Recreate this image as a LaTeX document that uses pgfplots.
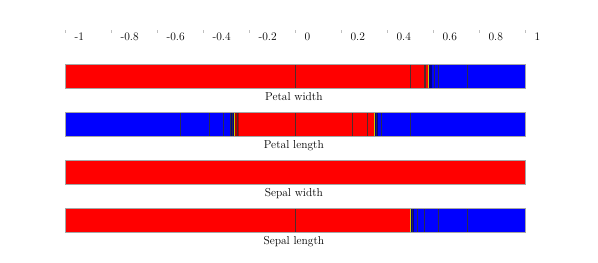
\documentclass[border=0pt]{standalone}
\usepackage{fontspec}
\usepackage{pgfplots}
\pgfplotsset{compat=1.18}
\definecolor{cred}{RGB}{255,0,0}
\definecolor{cblue}{RGB}{0,0,255}
\definecolor{cdblue}{RGB}{0,0,140}
\definecolor{cdred}{RGB}{175,0,0}
\definecolor{cyel}{RGB}{205,205,0}
% segment: top, bottom, x1, x2, colour
\newcommand{\seg}[5]{\addplot[fill=#5, draw=none] coordinates {(#3,#1) (#4,#1) (#4,#2) (#3,#2)} -- cycle;}
\newcommand{\frm}[2]{\addplot[draw=gray!70, line width=0.7pt, fill=none] coordinates {(-1,#1) (1,#1) (1,#2) (-1,#2)} -- cycle;}
% dividing lines (x, y), rows separated by nan
\pgfplotstableread{
x y
0 32.5
0 56.5
nan nan
0.501 32.5
0.501 56.5
nan nan
0.561 32.5
0.561 56.5
nan nan
0.566 32.5
0.566 56.5
nan nan
0.606 32.5
0.606 56.5
nan nan
0.623 32.5
0.623 56.5
nan nan
0.75 32.5
0.75 56.5
nan nan
-0.499 80.5
-0.499 104.5
nan nan
-0.373 80.5
-0.373 104.5
nan nan
-0.312 80.5
-0.312 104.5
nan nan
-0.283 80.5
-0.283 104.5
nan nan
-0.272 80.5
-0.272 104.5
nan nan
-0.252 80.5
-0.252 104.5
nan nan
0 80.5
0 104.5
nan nan
0.251 80.5
0.251 104.5
nan nan
0.314 80.5
0.314 104.5
nan nan
0.354 80.5
0.354 104.5
nan nan
0.377 80.5
0.377 104.5
nan nan
0.503 80.5
0.503 104.5
nan nan
0 176.5
0 200.5
nan nan
0.511 176.5
0.511 200.5
nan nan
0.532 176.5
0.532 200.5
nan nan
0.562 176.5
0.562 200.5
nan nan
0.623 176.5
0.623 200.5
nan nan
0.75 176.5
0.75 200.5
}\divlines
\pgfplotstableread{
x y
0.58 32.5
0.58 56.5
nan nan
-0.264 80.5
-0.264 104.5
nan nan
0.345 80.5
0.345 104.5
nan nan
0.501 176.5
0.501 200.5
}\yellines
\begin{document}
\begin{tikzpicture}
\begin{axis}[
  width=598pt, height=262pt, scale only axis,
  xmin=-1.2826, xmax=1.3174,
  ymin=-32, ymax=230, y dir=reverse,
  axis x line=middle, axis y line=none,
  x axis line style={draw=none,-},
  xtick={-1,-0.8,-0.6,-0.4,-0.2,0,0.2,0.4,0.6,0.8,1},
  xticklabels={{-1},{-0.8},{-0.6},{-0.4},{-0.2},{0},{0.2},{0.4},{0.6},{0.8},{1}},
  ytick=\empty,
  major tick length=3pt, tick align=center,
  tick style={gray!50, line width=0.7pt},
  xticklabel style={anchor=west, xshift=6pt, yshift=-3.5pt, font=\fontsize{11.5}{13}\selectfont},
  clip=false,
  unbounded coords=jump,
]
\path (rel axis cs:0,0) rectangle (rel axis cs:1,1);
% Petal width
\seg{32.5}{56.5}{-1}{0.58}{cred}
\seg{32.5}{56.5}{0.58}{0.594}{cdblue}
\seg{32.5}{56.5}{0.594}{1}{cblue}
% Petal length
\seg{80.5}{104.5}{-1}{-0.283}{cblue}
\seg{80.5}{104.5}{-0.283}{-0.264}{cdblue}
\seg{80.5}{104.5}{-0.264}{-0.243}{cdred}
\seg{80.5}{104.5}{-0.243}{0.345}{cred}
\seg{80.5}{104.5}{0.345}{0.36}{cdblue}
\seg{80.5}{104.5}{0.36}{1}{cblue}
% Sepal width
\seg{128.5}{152.5}{-1}{1}{cred}
% Sepal length
\seg{176.5}{200.5}{-1}{0.501}{cred}
\seg{176.5}{200.5}{0.501}{0.517}{cdblue}
\seg{176.5}{200.5}{0.517}{1}{cblue}
\addplot[black!80, line width=0.6pt, opacity=0.85] table[x=x, y=y] {\divlines};
\addplot[cyel, line width=1pt] table[x=x, y=y] {\yellines};
\frm{32.5}{56.5}
\frm{80.5}{104.5}
\frm{128.5}{152.5}
\frm{176.5}{200.5}
\begin{scope}[every node/.style={anchor=north, inner sep=0pt, font=\fontsize{11.5}{13}\selectfont}]
\node at (axis cs:-0.005,60) {Petal width};
\node at (axis cs:-0.005,108) {Petal length};
\node at (axis cs:-0.005,156) {Sepal width};
\node at (axis cs:-0.005,204) {Sepal length};
\end{scope}
\end{axis}
\end{tikzpicture}
\end{document}
